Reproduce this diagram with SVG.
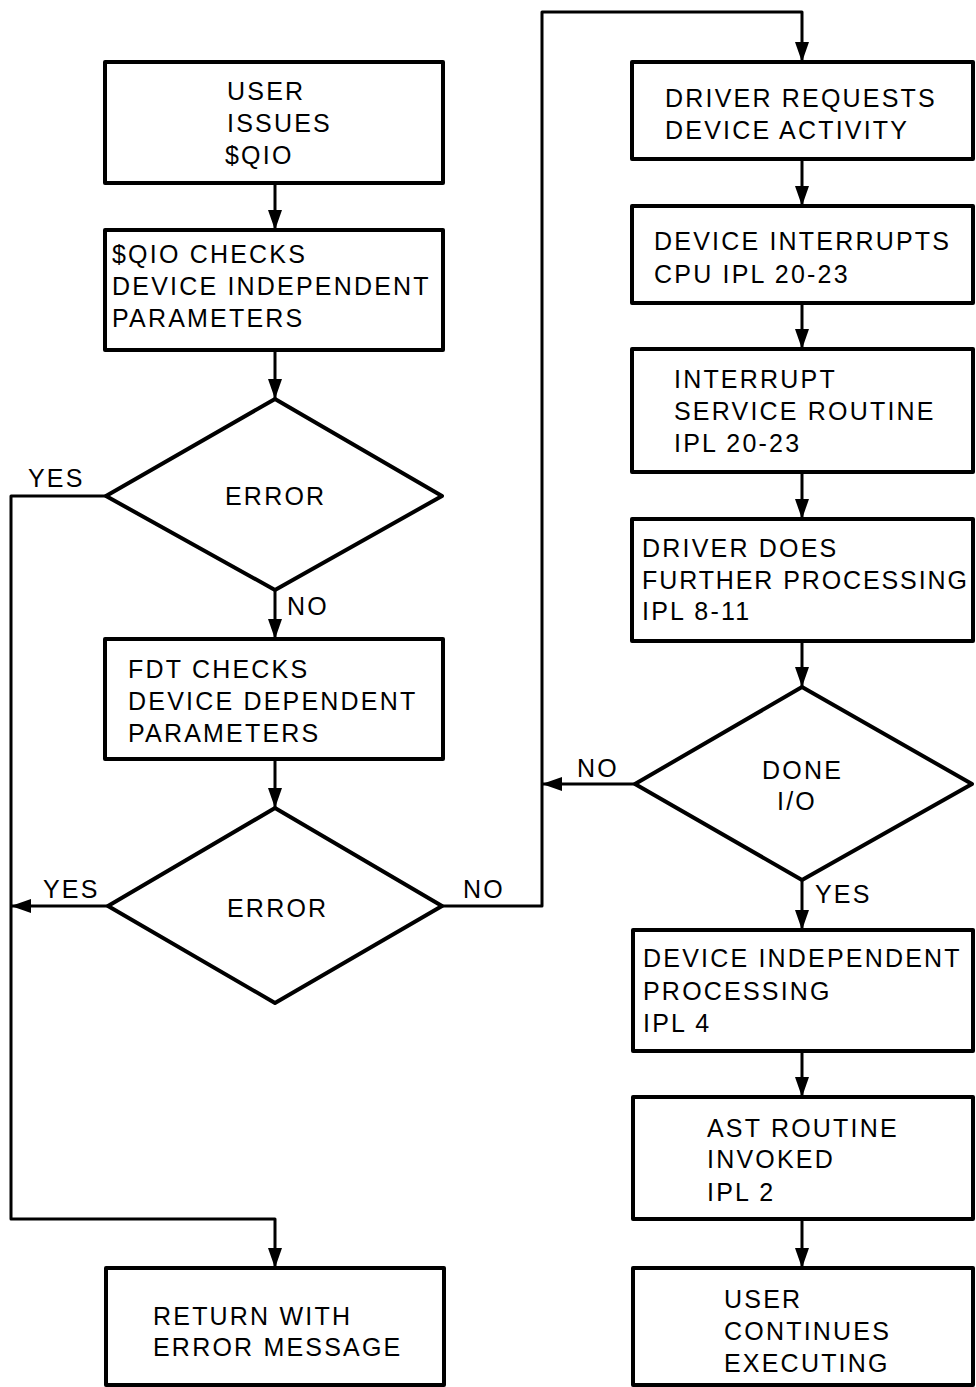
<svg xmlns="http://www.w3.org/2000/svg" width="976" height="1387" viewBox="0 0 976 1387">
<defs>
<marker id="arr" markerUnits="userSpaceOnUse" markerWidth="22" markerHeight="16" refX="20" refY="7" orient="auto">
<path d="M0,0 L20,7 L0,14 Z" fill="#000"/>
</marker>
<style>
.n rect,.n polygon{fill:#fff;stroke:#000;stroke-width:4;stroke-linejoin:round}
.c path,.c line{fill:none;stroke:#000;stroke-width:3;stroke-linejoin:round}
text{font-family:"Liberation Sans",Arial,sans-serif;font-size:25px;letter-spacing:2.2px;fill:#000}
</style>
</defs>
<rect width="976" height="1387" fill="#fff"/>
<g class="c" id="connectors">
<line x1="275" y1="183" x2="275" y2="230" marker-end="url(#arr)"/>
<line x1="275" y1="350" x2="275" y2="399" marker-end="url(#arr)"/>
<line x1="275" y1="590" x2="275" y2="639" marker-end="url(#arr)"/>
<line x1="275" y1="759" x2="275" y2="808" marker-end="url(#arr)"/>
<path d="M106,496 H11 V1219 H275 V1268" marker-end="url(#arr)"/>
<path d="M108,906 H11" marker-end="url(#arr)"/>
<path d="M442,906 H542 V12 H802 V62" marker-end="url(#arr)"/>
<path d="M635,784 H542" marker-end="url(#arr)"/>
<line x1="802" y1="159" x2="802" y2="206" marker-end="url(#arr)"/>
<line x1="802" y1="303" x2="802" y2="349" marker-end="url(#arr)"/>
<line x1="802" y1="472" x2="802" y2="519" marker-end="url(#arr)"/>
<line x1="802" y1="641" x2="802" y2="687" marker-end="url(#arr)"/>
<line x1="802" y1="880" x2="802" y2="930" marker-end="url(#arr)"/>
<line x1="802" y1="1051" x2="802" y2="1097" marker-end="url(#arr)"/>
<line x1="802" y1="1219" x2="802" y2="1268" marker-end="url(#arr)"/>
<text x="28" y="487">YES</text>
<text x="287" y="615">NO</text>
<text x="43" y="898">YES</text>
<text x="463" y="898">NO</text>
<text x="577" y="777">NO</text>
<text x="815" y="903">YES</text>
</g>
<g class="n" id="n_user_issues">
<rect x="105" y="62" width="338" height="121"/>
<text x="227" y="100">USER</text>
<text x="227" y="132">ISSUES</text>
<text x="225" y="164">$QIO</text>
</g>
<g class="n" id="n_qio_checks">
<rect x="105" y="230" width="338" height="120"/>
<text x="112" y="263">$QIO CHECKS</text>
<text x="112" y="295">DEVICE INDEPENDENT</text>
<text x="112" y="327">PARAMETERS</text>
</g>
<g class="n" id="n_error1">
<polygon points="275,399 442,496 275,590 106,496"/>
<text x="225" y="505">ERROR</text>
</g>
<g class="n" id="n_fdt_checks">
<rect x="105" y="639" width="338" height="120"/>
<text x="128" y="678">FDT CHECKS</text>
<text x="128" y="710">DEVICE DEPENDENT</text>
<text x="128" y="742">PARAMETERS</text>
</g>
<g class="n" id="n_error2">
<polygon points="275,808 442,906 275,1003 108,906"/>
<text x="227" y="917">ERROR</text>
</g>
<g class="n" id="n_return">
<rect x="106" y="1268" width="338" height="117"/>
<text x="153" y="1325">RETURN WITH</text>
<text x="153" y="1356">ERROR MESSAGE</text>
</g>
<g class="n" id="n_driver_requests">
<rect x="632" y="62" width="341" height="97"/>
<text x="665" y="107">DRIVER REQUESTS</text>
<text x="665" y="139">DEVICE ACTIVITY</text>
</g>
<g class="n" id="n_device_interrupts">
<rect x="632" y="206" width="341" height="97"/>
<text x="654" y="250">DEVICE INTERRUPTS</text>
<text x="654" y="283">CPU IPL 20-23</text>
</g>
<g class="n" id="n_isr">
<rect x="632" y="349" width="341" height="123"/>
<text x="674" y="388">INTERRUPT</text>
<text x="674" y="420">SERVICE ROUTINE</text>
<text x="674" y="452">IPL 20-23</text>
</g>
<g class="n" id="n_driver_does">
<rect x="632" y="519" width="341" height="122"/>
<text x="642" y="557">DRIVER DOES</text>
<text x="642" y="589" style="letter-spacing:1.9px">FURTHER PROCESSING</text>
<text x="642" y="620">IPL 8-11</text>
</g>
<g class="n" id="n_done_io">
<polygon points="802,687 972,784 802,880 635,784"/>
<text x="762" y="779">DONE</text>
<text x="777" y="810">I/O</text>
</g>
<g class="n" id="n_device_independent">
<rect x="633" y="930" width="340" height="121"/>
<text x="643" y="967">DEVICE INDEPENDENT</text>
<text x="643" y="1000">PROCESSING</text>
<text x="643" y="1032">IPL 4</text>
</g>
<g class="n" id="n_ast">
<rect x="633" y="1097" width="340" height="122"/>
<text x="707" y="1137">AST ROUTINE</text>
<text x="707" y="1168">INVOKED</text>
<text x="707" y="1201">IPL 2</text>
</g>
<g class="n" id="n_user_continues">
<rect x="633" y="1268" width="340" height="117"/>
<text x="724" y="1308">USER</text>
<text x="724" y="1340">CONTINUES</text>
<text x="724" y="1372">EXECUTING</text>
</g>
</svg>
